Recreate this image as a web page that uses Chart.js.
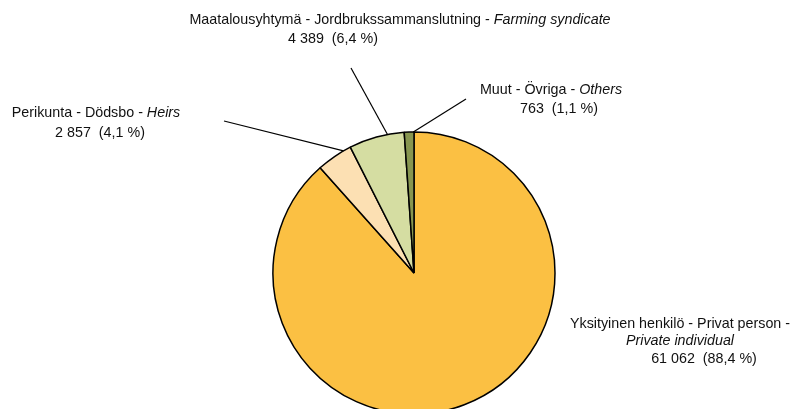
<!DOCTYPE html>
<html>
<head>
<meta charset="utf-8">
<script src="https://cdn.jsdelivr.net/npm/chart.js@4/dist/chart.umd.min.js"></script>
<style>
  html, body { margin: 0; padding: 0; background: #fff; overflow: hidden; }
  #wrap { width: 795px; height: 409px; }
</style>
</head>
<body>
<div id="wrap"><canvas id="grafico" width="795" height="409"></canvas></div>
<script>
// categorias: finés - sueco - inglés (cursiva)
const nombresFi = ['Yksityinen henkilö', 'Perikunta', 'Maatalousyhtymä', 'Muut'];
const nombresSv = ['Privat person', 'Dödsbo', 'Jordbrukssammanslutning', 'Övriga'];
const nombresEn = ['Private individual', 'Heirs', 'Farming syndicate', 'Others'];
const valores = [61062, 2857, 4389, 763];
const colores = ['#FBC043', '#FCE0B3', '#D5DDA2', '#879650'];

const total = valores.reduce((a, b) => a + b, 0);
const fmtNum = v => String(v).replace(/\B(?=(\d{3})+(?!\d))/g, ' ');
const fmtPct = v => (v / total * 100).toFixed(1).replace('.', ',') + ' %';
const textoValor = i => `${fmtNum(valores[i])}  (${fmtPct(valores[i])})`;

// posicion de las etiquetas (lineas de texto y guia)
const etiquetas = [
  { // privado
    lineas: [
      { x: 680, y: 328, partes: [[`${nombresFi[0]} - ${nombresSv[0]} -`, false]] },
      { x: 680, y: 345, partes: [[nombresEn[0], true]] },
      { x: 704, y: 363, partes: [[textoValor(0), false]] }
    ]
  },
  { // perikunta
    lineas: [
      { x: 96, y: 117, partes: [[`${nombresFi[1]} - ${nombresSv[1]} - `, false], [nombresEn[1], true]] },
      { x: 100, y: 137, partes: [[textoValor(1), false]] }
    ],
    guia: { x: 224, y: 121, frac: 0.79 }
  },
  { // maatalousyhtymä
    lineas: [
      { x: 400, y: 24, partes: [[`${nombresFi[2]} - ${nombresSv[2]} - `, false], [nombresEn[2], true]] },
      { x: 333, y: 43, partes: [[textoValor(2), false]] }
    ],
    guia: { x: 351, y: 68, frac: 0.70 }
  },
  { // muut
    lineas: [
      { x: 551, y: 94, partes: [[`${nombresFi[3]} - ${nombresSv[3]} - `, false], [nombresEn[3], true]] },
      { x: 559, y: 113, partes: [[textoValor(3), false]] }
    ],
    guia: { x: 466, y: 99, frac: 0.93 }
  }
];

const FUENTE = '"Liberation Sans", Arial, sans-serif';
const TAM = 14.3;

const pluginEtiquetas = {
  id: 'etiquetas',
  afterDraw(chart) {
    const ctx = chart.ctx;
    const arcos = chart.getDatasetMeta(0).data;
    ctx.save();
    ctx.fillStyle = '#111';
    ctx.strokeStyle = '#000';
    ctx.lineWidth = 1.2;
    ctx.textBaseline = 'alphabetic';
    ctx.textAlign = 'left';
    etiquetas.forEach((et, i) => {
      if (et.guia) {
        const p = arcos[i].getProps(['x', 'y', 'startAngle', 'endAngle', 'outerRadius'], true);
        const ang = p.startAngle + et.guia.frac * (p.endAngle - p.startAngle);
        ctx.beginPath();
        ctx.moveTo(et.guia.x, et.guia.y);
        ctx.lineTo(p.x + Math.cos(ang) * p.outerRadius, p.y + Math.sin(ang) * p.outerRadius);
        ctx.stroke();
      }
      et.lineas.forEach(l => {
        let ancho = 0;
        l.partes.forEach(([t, it]) => {
          ctx.font = `${it ? 'italic ' : ''}${TAM}px ${FUENTE}`;
          ancho += ctx.measureText(t).width;
        });
        let x = l.x - ancho / 2;
        l.partes.forEach(([t, it]) => {
          ctx.font = `${it ? 'italic ' : ''}${TAM}px ${FUENTE}`;
          ctx.fillText(t, x, l.y);
          x += ctx.measureText(t).width;
        });
      });
    });
    ctx.restore();
  }
};

new Chart(document.getElementById('grafico'), {
  type: 'pie',
  data: {
    labels: nombresEn,
    datasets: [{
      data: valores,
      backgroundColor: colores,
      borderColor: '#000',
      borderWidth: 1.5,
      clip: false
    }]
  },
  options: {
    responsive: false,
    animation: false,
    radius: 141,
    layout: { padding: { left: 33, right: 0, top: 137, bottom: 0 } },
    plugins: {
      legend: { display: false },
      tooltip: { enabled: false }
    }
  },
  plugins: [pluginEtiquetas]
});
</script>
</body>
</html>
